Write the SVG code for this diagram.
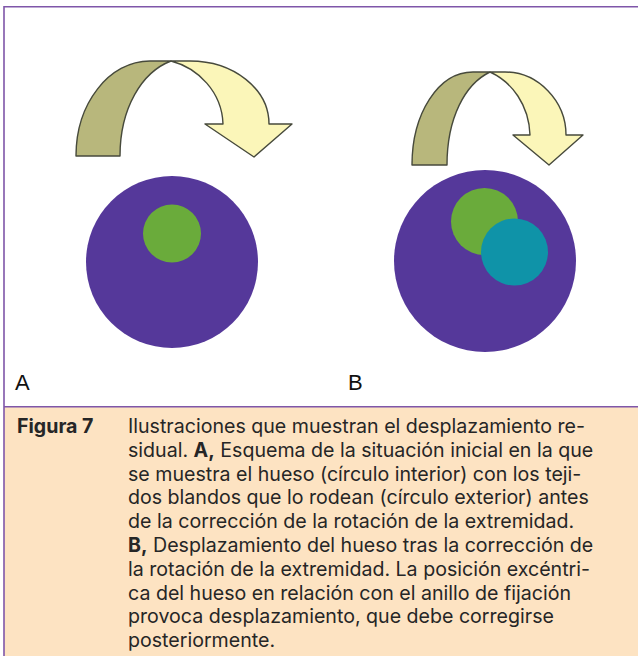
<svg xmlns="http://www.w3.org/2000/svg" width="638" height="656" viewBox="0 0 638 656">
  <style>
    .frame { stroke: #7f56a9; stroke-width: 1.6; fill: none; }
    .back { fill: #b8b77c; stroke: #474a3c; stroke-width: 1.4; stroke-linejoin: round; }
    .front { fill: #fbf6b9; stroke: #474a3c; stroke-width: 1.4; stroke-linejoin: round; }
    .outer { fill: #55389a; }
    .bone { fill: #6aab3b; }
    .shift { fill: #0f93a8; }
    .label { font-family: "Liberation Sans", Arial, sans-serif; font-size: 22px; fill: #111; }
    .cap { font-family: Inter, "Liberation Sans", sans-serif; font-size: 19.6px; fill: #262626; }
    .b { font-weight: bold; }
  </style>

  <!-- page background and caption panel -->
  <rect x="0" y="0" width="638" height="656" fill="#ffffff"/>
  <rect x="4" y="407" width="634" height="249" fill="#fde3c2"/>
  <path class="frame" d="M4,656 V6.8 H638"/>
  <line class="frame" x1="4" y1="406.8" x2="638" y2="406.8"/>

  <!-- panel A -->
  <g id="panel-a">
    <g id="arrow-a">
      <path class="back" d="M76,156 C76,103.5 109,61 150,61 L171,61 C142,72 120,108 120,156 Z"/>
      <path class="front" d="M171,61 L190,61 C233.6,61 269,89 269,124 L292,124 L254,157 L205,124 L223,124 C222,92 198,68 171,61 Z"/>
    </g>
    <g id="limb-a">
      <circle class="outer" cx="172" cy="262" r="86"/>
      <circle class="bone" cx="172" cy="233.5" r="29"/>
    </g>
    <text id="label-a" class="label" x="15" y="390">A</text>
  </g>

  <!-- panel B -->
  <g id="panel-b">
    <g id="arrow-b">
      <path class="back" d="M412,165 C412,114 438,72 473,72 L490,72 C465,84 447,118 447,165 Z"/>
      <path class="front" d="M490,72 L505,72 C538,72 566,101 566,135 L583,135 L549,165 L513,135 L530,135 C529,105 512,82 490,72 Z"/>
    </g>
    <g id="limb-b">
      <circle class="outer" cx="485" cy="261" r="91"/>
      <circle class="bone" cx="484.5" cy="221.5" r="33.5"/>
      <circle class="shift" cx="514.5" cy="252" r="33.5"/>
    </g>
    <text id="label-b" class="label" x="348" y="390">B</text>
  </g>

  <!-- caption -->
  <g id="caption">
    <text class="cap b" x="17" y="433">Figura 7</text>
    <text class="cap" x="128" y="433">Ilustraciones que muestran el desplazamiento re-</text>
    <text class="cap" x="128" y="456.8">sidual. <tspan class="b">A,</tspan> Esquema de la situación inicial en la que</text>
    <text class="cap" x="128" y="480.6">se muestra el hueso (círculo interior) con los teji-</text>
    <text class="cap" x="128" y="504.4">dos blandos que lo rodean (círculo exterior) antes</text>
    <text class="cap" x="128" y="528.2">de la corrección de la rotación de la extremidad.</text>
    <text class="cap" x="128" y="552"><tspan class="b">B,</tspan> Desplazamiento del hueso tras la corrección de</text>
    <text class="cap" x="128" y="575.8">la rotación de la extremidad. La posición excéntri-</text>
    <text class="cap" x="128" y="599.6">ca del hueso en relación con el anillo de fijación</text>
    <text class="cap" x="128" y="623.4">provoca desplazamiento, que debe corregirse</text>
    <text class="cap" x="128" y="647.2">posteriormente.</text>
  </g>
</svg>
